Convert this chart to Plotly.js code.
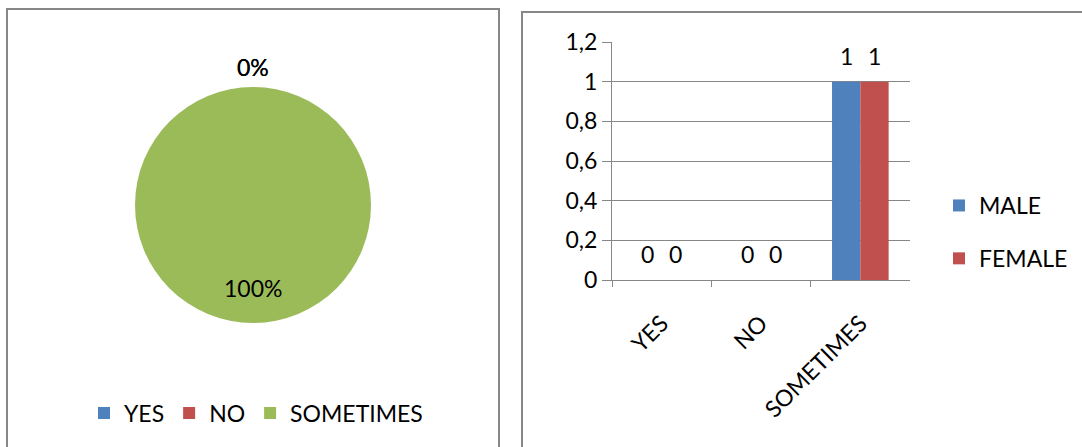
<!DOCTYPE html>
<html>
<head>
<meta charset="utf-8">
<script src="https://cdn.plot.ly/plotly-3.0.1.min.js"></script>
<style>
  html, body { margin: 0; padding: 0; background: #fff; }
  #chart { width: 1082px; height: 447px; }
</style>
</head>
<body>
<div id="chart"></div>
<script>
// Survey answers: share of responses (pie) and counts by gender (bars)
const pieLabels = ['YES', 'NO', 'SOMETIMES'];
const pieValues = [0, 0, 1];
const pieColors = ['#4F81BD', '#C0504D', '#9BBB59'];

const barCategories = ['YES', 'NO', 'SOMETIMES'];
const maleValues = [0, 0, 1];
const femaleValues = [0, 0, 1];
const yTickValues = [0, 0.2, 0.4, 0.6, 0.8, 1, 1.2];

const W = 1082, H = 447;
const px = x => x / W;           // pixel -> paper x
const py = y => 1 - y / H;       // pixel -> paper y

const FONT = 'Lato, "Open Sans", sans-serif';
const FS = 23;
const GRID = '#878787';

// Pie geometry (pixels)
const pieCx = 253, pieCy = 205, pieR = 118;

const traces = [
  {
    type: 'pie',
    labels: pieLabels,
    values: pieValues,
    marker: { colors: pieColors, line: { width: 0 } },
    sort: false,
    direction: 'clockwise',
    rotation: 0,
    textinfo: 'none',
    hoverinfo: 'label+percent',
    domain: { x: [px(pieCx - pieR), px(pieCx + pieR)], y: [py(pieCy + pieR), py(pieCy - pieR)] },
    legend: 'legend'
  },
  {
    type: 'bar', name: 'MALE', x: barCategories, y: maleValues,
    marker: { color: '#4F81BD' }, xaxis: 'x', yaxis: 'y',
    legend: 'legend2', legendgroup: 'm'
  },
  {
    type: 'bar', name: 'FEMALE', x: barCategories, y: femaleValues,
    marker: { color: '#C0504D' }, xaxis: 'x', yaxis: 'y',
    legend: 'legend2', legendgroup: 'f'
  }
];

// Percentage labels around the pie, placed at each slice's mid angle
const total = pieValues.reduce((a, b) => a + b, 0);
const annotations = [];
let cum = 0;
pieValues.forEach(v => {
  const share = v / total;
  const mid = (cum + share / 2) * 2 * Math.PI;
  cum += share;
  const r = share < 0.05 ? pieR + 20 : pieR * 0.7;
  annotations.push({
    xref: 'paper', yref: 'paper',
    x: px(pieCx + r * Math.sin(mid)), y: py(pieCy - r * Math.cos(mid)),
    text: Math.round(share * 100) + '%', showarrow: false,
    xanchor: 'center', yanchor: 'middle',
    font: { family: FONT, size: FS, color: '#000' }
  });
});

// Value labels above each bar
[[maleValues, -14], [femaleValues, 14]].forEach(([vals, dx]) => {
  vals.forEach((v, i) => {
    annotations.push({
      xref: 'x', yref: 'y', x: barCategories[i], y: v,
      text: String(v), showarrow: false, xshift: dx, yshift: 26,
      xanchor: 'center', yanchor: 'middle',
      font: { family: FONT, size: FS, color: '#000' }
    });
  });
});

const border = { color: GRID, width: 2 };
const layout = {
  width: W, height: H,
  margin: { l: 0, r: 0, t: 0, b: 0 },
  paper_bgcolor: '#fff', plot_bgcolor: 'rgba(0,0,0,0)',
  separators: ',.',
  font: { family: FONT, size: FS, color: '#000' },
  barmode: 'group', bargap: 0.43, bargroupgap: 0,
  xaxis: {
    domain: [px(612), px(910)],
    type: 'category',
    showline: true, linecolor: GRID, linewidth: 1,
    ticks: 'outside', tickson: 'boundaries', ticklen: 6, tickcolor: GRID,
    tickangle: -45, ticklabelstandoff: 20, showgrid: false,
    tickfont: { family: FONT, size: FS, color: '#000' }
  },
  yaxis: {
    domain: [py(280), py(42)],
    range: [0, 1.2],
    tickvals: yTickValues,
    ticks: 'outside', ticklen: 9, tickcolor: GRID,
    showgrid: true, gridcolor: GRID, gridwidth: 1,
    showline: true, linecolor: GRID, linewidth: 1,
    zeroline: false,
    tickfont: { family: FONT, size: FS, color: '#000' }
  },
  legend: {
    orientation: 'h', x: px(84), xanchor: 'left', y: py(413), yanchor: 'middle',
    bgcolor: 'rgba(0,0,0,0)', font: { family: FONT, size: FS, color: '#000' }
  },
  legend2: {
    orientation: 'v', x: px(939), xanchor: 'left', y: py(232), yanchor: 'middle',
    traceorder: 'grouped', tracegroupgap: 20,
    bgcolor: 'rgba(0,0,0,0)', font: { family: FONT, size: FS, color: '#000' }
  },
  annotations: annotations,
  shapes: [
    { type: 'rect', xref: 'paper', yref: 'paper', x0: px(7), x1: px(499), y0: py(470), y1: py(9), line: border },
    { type: 'rect', xref: 'paper', yref: 'paper', x0: px(522), x1: px(1100), y0: py(470), y1: py(12), line: border }
  ],
  showlegend: true
};

Plotly.newPlot('chart', traces, layout, { staticPlot: true });
</script>
</body>
</html>
